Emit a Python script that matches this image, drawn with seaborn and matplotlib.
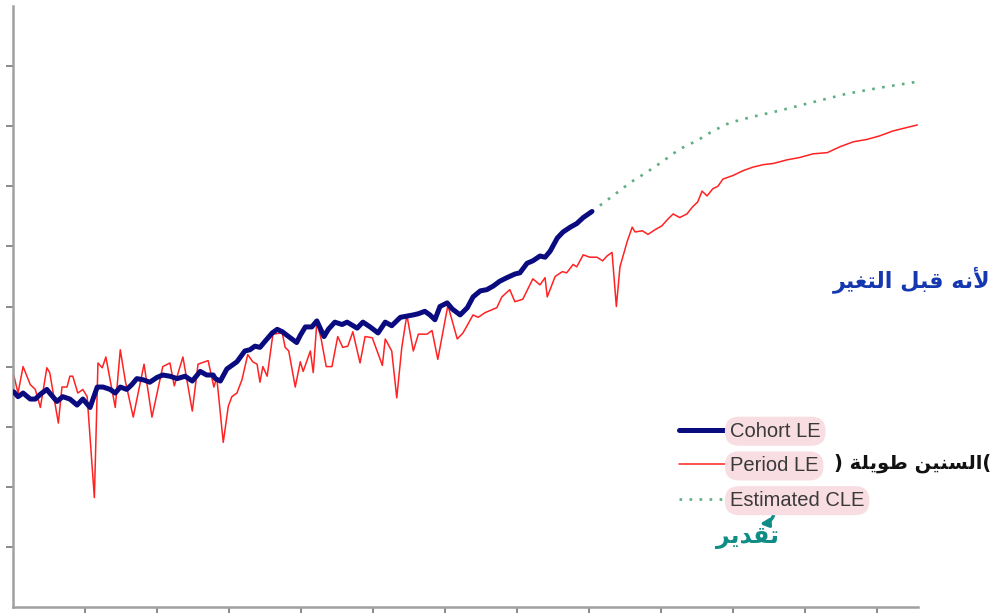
import matplotlib
matplotlib.use('Agg')
import matplotlib.pyplot as plt
import pandas as pd
import seaborn as sns

# dados (ano, esperanca de vida)
cohort_years = [1840.1, 1840.7, 1841.4, 1842.4, 1843.1, 1843.8, 1844.7, 1845.1, 1846.1, 1846.9,
                1847.9, 1848.9, 1849.7, 1850.7, 1851.7, 1852.5, 1853.5, 1854.2, 1854.9, 1855.8,
                1856.5, 1857.2, 1858.1, 1859.0, 1860.0, 1860.8, 1861.8, 1862.8, 1863.9, 1864.9,
                1866.0, 1866.9, 1867.8, 1868.1, 1868.8, 1869.7, 1871.1, 1872.2, 1872.9, 1873.6,
                1874.3, 1875.0, 1876.0, 1876.7, 1877.4, 1878.5, 1879.4, 1879.9, 1880.6, 1881.5,
                1882.2, 1883.2, 1883.8, 1884.7, 1885.7, 1886.4, 1887.8, 1888.6, 1889.6, 1890.7,
                1891.7, 1892.6, 1893.8, 1894.7, 1895.6, 1896.3, 1897.2, 1897.9, 1898.6, 1899.3,
                1900.3, 1901.0, 1902.1, 1903.1, 1903.9, 1904.9, 1905.8, 1906.7, 1907.6, 1908.6,
                1909.7, 1910.4, 1911.4, 1912.2, 1913.2, 1913.9, 1914.6, 1915.6, 1916.4, 1917.4,
                1918.3, 1919.2, 1920.4]
cohort_le = [57.9, 57.5, 57.8, 57.3, 57.3, 57.7, 58.1, 57.8, 57.1, 57.5,
             57.3, 56.8, 57.3, 56.6, 58.3, 58.3, 58.1, 57.8, 58.3, 58.1,
             58.5, 59.0, 58.9, 58.7, 59.1, 59.3, 59.2, 59.0, 59.2, 58.8,
             59.6, 59.3, 59.3, 59.0, 58.8, 59.8, 60.4, 61.3, 61.4, 61.7,
             61.6, 62.1, 62.8, 63.1, 62.9, 62.4, 62.0, 62.6, 63.3, 63.3,
             63.8, 62.5, 63.1, 63.7, 63.5, 63.7, 63.2, 63.7, 63.3, 62.8,
             63.7, 63.4, 64.1, 64.2, 64.3, 64.4, 64.6, 64.3, 63.9, 65.0,
             65.3, 64.8, 64.3, 64.9, 65.8, 66.3, 66.4, 66.7, 67.1, 67.4,
             67.7, 67.8, 68.6, 68.8, 69.2, 69.1, 69.6, 70.7, 71.2, 71.6,
             71.9, 72.4, 72.9]

period_years = [1840.1, 1840.7, 1841.4, 1842.4, 1843.1, 1843.8, 1844.7, 1845.1, 1846.3, 1846.8,
                1847.5, 1847.9, 1848.3, 1849.0, 1849.7, 1850.3, 1851.3, 1851.8, 1852.4, 1852.9,
                1854.2, 1854.9, 1855.6, 1856.7, 1858.2, 1859.3, 1860.8, 1861.8, 1862.4, 1863.6,
                1864.9, 1865.7, 1867.1, 1867.9, 1868.3, 1869.2, 1869.9, 1870.4, 1871.1, 1871.8,
                1872.6, 1873.3, 1873.9, 1874.3, 1874.7, 1875.3, 1876.1, 1877.4, 1877.8, 1878.3,
                1879.2, 1879.9, 1880.3, 1881.3, 1881.7, 1882.2, 1882.8, 1883.5, 1884.3, 1885.1,
                1885.8, 1886.5, 1887.2, 1888.2, 1888.9, 1889.9, 1891.3, 1891.7, 1892.6, 1893.3,
                1894.0, 1894.7, 1895.6, 1896.3, 1897.5, 1898.2, 1899.0, 1900.4, 1901.7, 1902.5,
                1903.9, 1904.6, 1905.6, 1907.2, 1907.9, 1909.0, 1909.7, 1910.8, 1912.2, 1913.2,
                1913.9, 1914.2, 1915.3, 1916.3, 1916.9, 1917.8, 1918.3, 1919.2, 1920.1, 1921.1,
                1921.9, 1922.5, 1923.2, 1923.8, 1924.3, 1925.3, 1926.0, 1926.4, 1927.4, 1928.2,
                1929.2, 1930.1, 1931.0, 1931.7, 1932.6, 1933.6, 1934.4, 1935.1, 1935.7, 1936.4,
                1937.2, 1937.9, 1938.6, 1940.0, 1941.4, 1942.8, 1944.2, 1945.6, 1947.5, 1949.3,
                1951.1, 1953.1, 1954.9, 1956.7, 1958.6, 1960.4, 1962.2, 1964.2, 1965.6]
period_le = [59.3, 57.8, 60.0, 58.5, 58.1, 56.6, 59.9, 59.5, 55.3, 58.3,
             58.3, 59.2, 59.2, 57.8, 58.1, 57.5, 49.1, 60.3, 59.9, 60.8,
             56.6, 61.4, 58.8, 55.8, 60.2, 55.8, 60.0, 60.3, 58.4, 60.8,
             56.3, 60.2, 60.5, 58.3, 59.1, 53.7, 56.7, 57.5, 57.8, 58.9,
             61.0, 60.4, 60.2, 58.7, 60.0, 59.2, 62.7, 62.8, 61.6, 61.3,
             58.3, 60.4, 59.6, 61.3, 59.5, 63.7, 62.3, 60.0, 60.0, 62.5,
             61.6, 61.7, 62.9, 60.3, 62.5, 62.4, 60.1, 62.3, 61.3, 57.4,
             61.6, 64.3, 61.3, 62.7, 62.7, 63.0, 60.6, 65.1, 62.3, 62.8,
             64.3, 64.1, 64.5, 64.9, 65.8, 66.4, 65.4, 65.6, 67.3, 66.8,
             67.4, 65.8, 67.5, 67.9, 67.8, 68.5, 68.3, 69.3, 69.1, 69.1,
             68.8, 69.2, 69.5, 65.0, 68.3, 70.4, 71.6, 71.2, 71.3, 71.0,
             71.4, 71.7, 72.3, 72.7, 72.4, 72.7, 73.3, 73.7, 74.6, 74.2,
             74.8, 75.0, 75.6, 75.9, 76.3, 76.6, 76.8, 76.9, 77.2, 77.4,
             77.7, 77.8, 78.3, 78.7, 78.9, 79.2, 79.6, 79.9, 80.1]

estimated_years = [1920.4, 1923.3, 1925.7, 1928.1, 1930.3, 1932.6, 1935.0, 1937.2, 1939.6, 1942.8,
                   1946.5, 1951.1, 1955.8, 1960.4, 1965.6]
estimated_cle = [72.9, 74.2, 75.3, 76.2, 77.1, 78.1, 78.8, 79.6, 80.3, 80.8,
                 81.3, 82.0, 82.7, 83.2, 83.7]

labels = ['Cohort LE', 'Period LE', 'Estimated CLE']

# notas manuscritas (arabe, formas de apresentacao em ordem visual)
note_blue = '\uFEAE\uFEF4\uFED0\uFE98\uFEDF\uFE8D \uFEDE\uFE92\uFED7 \uFEEA\uFEE7\uFEF7'
note_black = ') \uFE94\uFEE0\uFEF3\uFEEE\uFEC3 \uFEE6\uFEF4\uFEE8\uFEB4\uFEDF\uFE8D('
note_teal = '\uFEAE\uFEF3\uFEAA\uFED8\uFE97'

df_c = pd.DataFrame({'ano': cohort_years, 'le': cohort_le})
df_p = pd.DataFrame({'ano': period_years, 'le': period_le})
df_e = pd.DataFrame({'ano': estimated_years, 'le': estimated_cle})

sns.set_theme(style='white')
plt.rcParams['font.family'] = ['Liberation Sans', 'DejaVu Sans']

fig = plt.figure(figsize=(9.95, 6.13), dpi=100)
ax = fig.add_axes([13 / 995, 6 / 613, 905 / 995, 601 / 613])

sns.lineplot(data=df_c, x='ano', y='le', ax=ax, color='#0b0b80', lw=3.6, sort=False, label=labels[0], zorder=3)
sns.lineplot(data=df_p, x='ano', y='le', ax=ax, color='#ff2222', lw=1.1, sort=False, label=labels[1], zorder=2)
sns.lineplot(data=df_e, x='ano', y='le', ax=ax, color='#5fae82', lw=1.9, sort=False, label=labels[2],
             dashes=False, linestyle=(0, (1.0, 2.8)), zorder=2)

ax.set_xlim(1840, 1840 + 905 / 7.2)
ax.set_ylim(40, 90)
ax.set_xticks(range(1850, 1961, 10))
ax.set_yticks(range(45, 86, 5))
ax.set_xticklabels([])
ax.set_yticklabels([])
ax.set_xlabel('')
ax.set_ylabel('')
ax.tick_params(axis='both', direction='out', length=5, width=1.3, color='#808080',
               bottom=True, left=True)
for s in ['top', 'right']:
    ax.spines[s].set_visible(False)
for s in ['left', 'bottom']:
    ax.spines[s].set_color('#a0a0a0')
    ax.spines[s].set_linewidth(1.8)

leg = ax.legend(loc='upper left', bbox_to_anchor=(0.682, 0.312), bbox_transform=fig.transFigure,
                frameon=False, fontsize=14.5, handlelength=2.3, handletextpad=0.25,
                labelspacing=0.78, borderpad=0, borderaxespad=0)
for t in leg.get_texts():
    t.set_color('#3a3a3a')
    t.set_bbox(dict(boxstyle='round,pad=0.25,rounding_size=0.7', fc='#f8dde3', ec='none'))

fig.text(833 / 995, (613 - 280) / 613, note_blue, color='#1537b0', fontsize=16,
         family=['DejaVu Sans'], fontweight='bold', ha='left', va='center')
fig.text(834 / 995, (613 - 463) / 613, note_black, color='#111111', fontsize=14,
         family=['DejaVu Sans'], fontweight='bold', ha='left', va='center')
fig.text(716 / 995, (613 - 537) / 613, note_teal, color='#108c86', fontsize=17,
         family=['DejaVu Sans'], fontweight='bold', ha='left', va='center')
ax.annotate('', xy=(757 / 995, (613 - 524) / 613), xycoords='figure fraction',
            xytext=(775 / 995, (613 - 506) / 613), textcoords='figure fraction',
            arrowprops=dict(arrowstyle='-|>', color='#108c86', lw=2.4,
                            connectionstyle='arc3,rad=-0.5', mutation_scale=12))

fig.savefig('out.png', dpi=100)
